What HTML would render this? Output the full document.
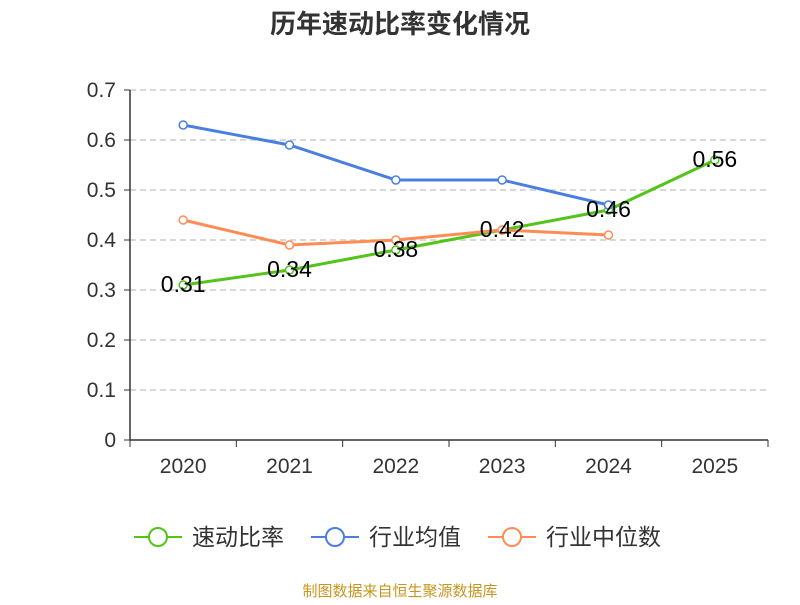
<!DOCTYPE html>
<html><head><meta charset="utf-8"><style>
body{margin:0;background:#fff;}
svg text{font-family:"Liberation Sans","Noto Sans CJK SC",sans-serif;}
</style></head><body>
<svg id="c" width="800" height="600">
<text x="400" y="33" text-anchor="middle" font-size="26" font-weight="bold" fill="#333">历年速动比率变化情况</text>
<g id="grid"></g><g id="axes"></g><g id="series"></g><g id="labels"></g>
<g>
<g><line x1="134" y1="537" x2="182" y2="537" stroke="#52c41a" stroke-width="2"/><circle cx="158" cy="537" r="9" fill="#fff" stroke="#52c41a" stroke-width="2"/><text x="192" y="545" font-size="23" fill="#333">速动比率</text></g>
<g><line x1="311" y1="537" x2="359" y2="537" stroke="#4a7fe0" stroke-width="2"/><circle cx="335" cy="537" r="9" fill="#fff" stroke="#4a7fe0" stroke-width="2"/><text x="369" y="545" font-size="23" fill="#333">行业均值</text></g>
<g><line x1="488" y1="537" x2="536" y2="537" stroke="#ff8c55" stroke-width="2"/><circle cx="512" cy="537" r="9" fill="#fff" stroke="#ff8c55" stroke-width="2"/><text x="546" y="545" font-size="23" fill="#333">行业中位数</text></g>
</g>
<text x="400" y="596" text-anchor="middle" font-size="15" fill="#c8961e">制图数据来自恒生聚源数据库</text>
</svg>
<script>
const categories=["2020","2021","2022","2023","2024","2025"];
const quickRatio=[0.31,0.34,0.38,0.42,0.46,0.56];
const industryAvg=[0.63,0.59,0.52,0.52,0.47];
const industryMedian=[0.44,0.39,0.40,0.42,0.41];
const yTicks=[0,0.1,0.2,0.3,0.4,0.5,0.6,0.7];
const NS="http://www.w3.org/2000/svg";
const L=130,R=768,T=90,B=440,yMax=0.7;
const bw=(R-L)/categories.length;
const x=i=>L+bw*(i+0.5);
const y=v=>B-(v/yMax)*(B-T);
function mk(tag,attrs,parent,txt){const e=document.createElementNS(NS,tag);for(const k in attrs)e.setAttribute(k,attrs[k]);if(txt!==undefined)e.textContent=txt;document.getElementById(parent).appendChild(e);return e;}
yTicks.forEach((t,i)=>{
  if(t>0){const g=mk('line',{x1:L,x2:R,y1:y(t),y2:y(t),stroke:'#ccc','stroke-dasharray':'6,4','stroke-width':1.5},'grid');
  
  }
  const tk=mk('line',{x1:L-6,x2:L,y1:y(t),y2:y(t),stroke:'#333'},'axes');
  
  
  const lb=mk('text',{x:L-14,y:y(t)+7,'text-anchor':'end','font-size':21,fill:'#333'},'axes',String(t));
  
  
});
const ya=mk('line',{x1:L,x2:L,y1:T,y2:B,stroke:'#333','stroke-width':1.5},'axes');


const xa=mk('line',{x1:L,x2:R,y1:B,y2:B,stroke:'#333','stroke-width':1.5},'axes');


for(let i=0;i<=categories.length;i++){const t=mk('line',{x1:L+bw*i,x2:L+bw*i,y1:B,y2:B+7,stroke:'#333'},'axes');

}
categories.forEach((c,i)=>{const t=mk('text',{x:x(i),y:B+33,'text-anchor':'middle','font-size':21,fill:'#333'},'axes',c);

});
function series(data,color,name){
  const p=mk('polyline',{points:data.map((v,i)=>x(i)+','+y(v)).join(' '),fill:'none',stroke:color,'stroke-width':3},'series');
  
  
  data.forEach((v,i)=>{const c=mk('circle',{cx:x(i),cy:y(v),r:4,fill:'#fff',stroke:color,'stroke-width':1.5},'series');
  
  });
}
series(quickRatio,'#52c41a','quick-ratio');
series(industryAvg,'#4a7fe0','industry-average');
series(industryMedian,'#ff8c55','industry-median');
quickRatio.forEach((v,i)=>{const t=mk('text',{x:x(i),y:y(v)+7,'text-anchor':'middle','font-size':23,fill:'#000'},'labels',v.toFixed(2));

});
</script>
</body></html>
